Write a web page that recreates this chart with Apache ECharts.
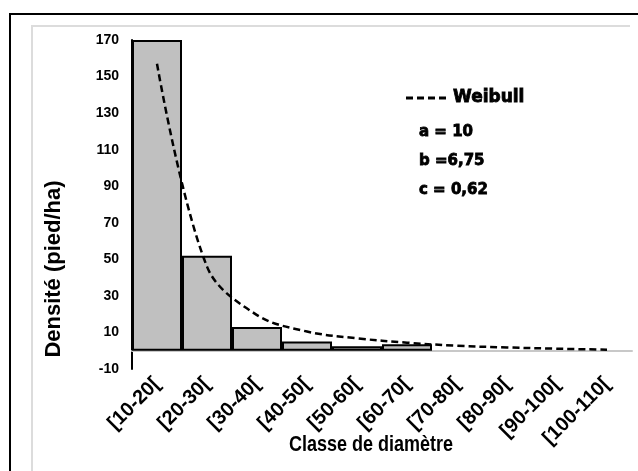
<!DOCTYPE html>
<html>
<head>
<meta charset="utf-8">
<script src="https://cdn.jsdelivr.net/npm/echarts@6/dist/echarts.min.js"></script>
<style>html,body{margin:0;padding:0;background:#fff}#c{width:638px;height:471px}</style>
</head>
<body>
<div id="c"></div>
<script>
var categories = ['[10-20[', '[20-30[', '[30-40[', '[40-50[', '[50-60[', '[60-70[', '[70-80[', '[80-90[', '[90-100[', '[100-110['];
var density = [170, 52, 13, 5, 2.4, 3.6, null, null, null, null];
var weibull = [157, 46, 19.5, 10.5, 6.8, 4.4, 2.7, 1.8, 1.1, 0.6];
var yMin = -10, yMax = 170, yStep = 20;
var legendLabel = 'Weibull';
var params = ['a = 10', 'b =6,75', 'c = 0,62'];

var chart = echarts.init(document.getElementById('c'));
var graphics = [
  {type: 'rect', shape: {x: 10, y: 14, width: 640, height: 470}, style: {fill: 'none', stroke: '#000', lineWidth: 2}, z: -1},
  {type: 'polyline', shape: {points: [[32, 480], [32, 26], [630, 26]]}, style: {fill: 'none', stroke: '#dcdcdc', lineWidth: 2}, z: -1},
  {type: 'text', x: 54, y: 269, rotation: Math.PI / 2, style: {text: 'Densité (pied/ha)', font: 'bold 22px "Liberation Sans", Arial, sans-serif', fill: '#000', textAlign: 'center', textVerticalAlign: 'middle'}},
  {type: 'text', x: 371, y: 445, scaleY: 1.22, style: {text: 'Classe de diamètre', font: 'bold 18px "Liberation Sans", Arial, sans-serif', fill: '#000', textAlign: 'center', textVerticalAlign: 'middle'}},
  {type: 'line', shape: {x1: 406, y1: 98, x2: 450, y2: 98}, style: {stroke: '#000', lineWidth: 3, lineDash: [7, 4]}},
  {type: 'text', x: 453, y: 98, style: {text: legendLabel, font: 'bold 17px "DejaVu Sans", sans-serif', fill: '#000', stroke: '#000', lineWidth: 0.8, textAlign: 'left', textVerticalAlign: 'middle'}}
];
var pY = [132, 161, 190];
params.forEach(function (t, i) {
  graphics.push({type: 'text', x: 419, y: pY[i], style: {text: t, font: 'bold 15px "DejaVu Sans", sans-serif', fill: '#000', stroke: '#000', lineWidth: 0.8, textAlign: 'left', textVerticalAlign: 'middle'}});
});

chart.setOption({
  animation: false,
  backgroundColor: '#fff',
  grid: {left: 132, right: 6, top: 40, bottom: 102, containLabel: false},
  xAxis: {
    type: 'category', data: categories,
    axisLine: {onZero: true, lineStyle: {color: '#c8c8c8', width: 2}},
    axisTick: {show: false},
    axisLabel: {interval: 0, rotate: 45, margin: 12, color: '#000', fontSize: 20, fontWeight: 'bold', fontFamily: '"Liberation Sans", Arial, sans-serif'},
    splitLine: {show: false}
  },
  yAxis: {
    type: 'value', min: yMin, max: yMax, interval: yStep,
    axisLine: {show: true, onZero: false, lineStyle: {color: '#000', width: 2}},
    axisTick: {show: false},
    splitLine: {show: false},
    axisLabel: {margin: 13, color: '#000', fontSize: 14, fontWeight: 'bold', fontFamily: '"Liberation Sans", Arial, sans-serif'}
  },
  series: [
    {
      name: 'Densité', type: 'bar', data: density, barCategoryGap: '0%', barGap: '0%',
      itemStyle: {color: '#c0c0c0', borderColor: '#000', borderWidth: 2}, z: 2
    },
    {
      name: 'Weibull', type: 'line', data: weibull, smooth: 0.35, symbol: 'none',
      lineStyle: {color: '#000', width: 2.5, type: [7, 4]}, itemStyle: {color: '#000'}, z: 3
    }
  ],
  graphic: graphics
});
</script>
</body>
</html>
